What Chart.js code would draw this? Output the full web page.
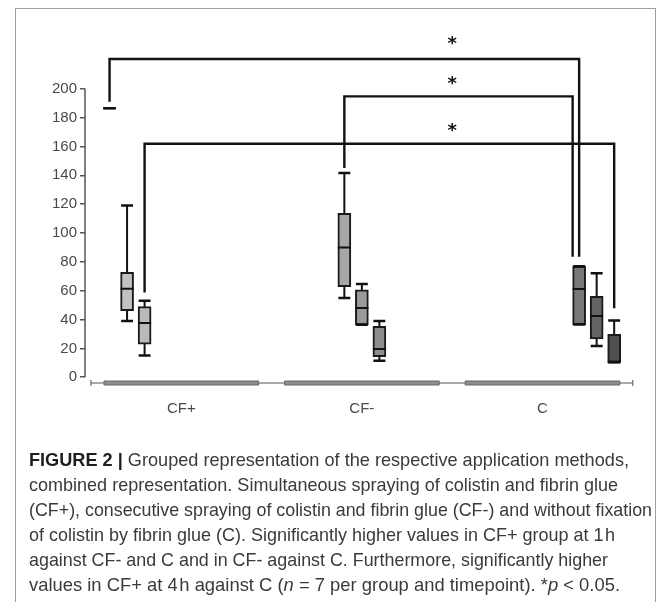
<!DOCTYPE html>
<html>
<head>
<meta charset="utf-8">
<script src="https://cdn.jsdelivr.net/npm/chart.js@4/dist/chart.umd.min.js"></script>
<style>
  html, body { margin: 0; padding: 0; background: #fff; }
  body { width: 670px; height: 602px; position: relative; overflow: hidden; }
  #wrap { position: absolute; left: 0; top: 0; width: 670px; height: 440px; }
  #frame { position: absolute; left: 15px; top: 8px; width: 641px; height: 640px;
           border: 1px solid #a0a0a0; border-bottom: none; box-sizing: border-box; }
  #caption { position: absolute; left: 29px; top: 447px; color: #3a3a3a;
             font-family: 'Liberation Sans', sans-serif;
             font-size: 18.5px; line-height: 25px; white-space: nowrap; }
  #caption span { display: inline-block; transform-origin: 0 50%; }
  #caption b { color: #1e1e1e; }
</style>
</head>
<body>
<div id="wrap"><canvas id="chart" width="670" height="440"></canvas></div>
<div id="frame"></div>
<div id="caption">
  <div><span><b>FIGURE 2 |</b> Grouped representation of the respective application methods,</span></div>
  <div><span>combined representation. Simultaneous spraying of colistin and fibrin glue</span></div>
  <div><span>(CF+), consecutive spraying of colistin and fibrin glue (CF-) and without fixation</span></div>
  <div><span>of colistin by fibrin glue (C). Significantly higher values in CF+ group at 1&#8202;h</span></div>
  <div><span>against CF- and C and in CF- against C. Furthermore, significantly higher</span></div>
  <div><span>values in CF+ at 4&#8202;h against C (<i>n</i> = 7 per group and timepoint). *<i>p</i> &lt; 0.05.</span></div>
</div>
<script>
const groups = ['CF+', 'CF-', 'C'];
const timepoints = ['1 h', '4 h', '24 h'];

// five-number summaries, group after group, timepoints in order
const minValues    = [186.5, 39,   15,   55,    36.3, 11.5,  36.5, 21.7, 10.4];
const q1Values     = [186.5, 46.2, 23,   62.8,  36.3, 14.3,  36.5, 26.6, 10.4];
const medianValues = [186.5, 61.4, 37.6, 90,    48,   19.6,  61.2, 42.5, 10.4];
const q3Values     = [186.5, 72.7, 49,   113.6, 60.5, 35.3,  76.9, 56,   29.8];
const maxValues    = [186.5, 119,  53,   141.6, 64.7, 39,    76.9, 72,   39.3];

const yTicks = [0, 20, 40, 60, 80, 100, 120, 140, 160, 180, 200];

// significance brackets (box index from / to)
const sigFrom    = [0, 3, 2];
const sigTo      = [6, 6, 8];
const sigLevel   = [220.6, 194.7, 161.8];
const sigFromEnd = [191, 145, 58.8];
const sigToEnd   = [83.5, 83.5, 47.9];
const sigMarks   = ['*', '*', '*'];
const sigMarkY   = [234, 205.8, 173.8];

const boxFill = ['#c2c2c2', '#c2c2c2', '#bababa',
                 '#a7a7a7', '#9a9a9a', '#8d8d8d',
                 '#787878', '#646464', '#4f4f4f'];

const GROUP_SHIFT = 0.3, TP_STEP = 0.097;
const BOX_HALF = 0.036, CAP_HALF = 0.033;
const sigToSide = [0, -1, 0];

const boxX = minValues.map((_, i) => {
  const g = Math.floor(i / timepoints.length), t = i % timepoints.length;
  return g + (g - 1) * GROUP_SHIFT + (t - 1) * TP_STEP;
});

const whiskers = [], caps = [], medians = [], brackets = [];
boxX.forEach((x, i) => {
  whiskers.push({x, y: minValues[i]}, {x, y: maxValues[i]}, {x, y: null});
  caps.push({x: x - CAP_HALF, y: maxValues[i]}, {x: x + CAP_HALF, y: maxValues[i]}, {x, y: null});
  caps.push({x: x - CAP_HALF, y: minValues[i]}, {x: x + CAP_HALF, y: minValues[i]}, {x, y: null});
  medians.push({x: x - BOX_HALF, y: medianValues[i]}, {x: x + BOX_HALF, y: medianValues[i]}, {x, y: null});
});
sigFrom.forEach((f, k) => {
  const x1 = boxX[f], x2 = boxX[sigTo[k]] + sigToSide[k] * BOX_HALF;
  brackets.push({x: x1, y: sigFromEnd[k]}, {x: x1, y: sigLevel[k]},
                {x: x2, y: sigLevel[k]}, {x: x2, y: sigToEnd[k]}, {x: x1, y: null});
});

const lineSet = (data, width, order) => ({
  type: 'line', data, order,
  borderColor: '#111', borderWidth: width,
  borderJoinStyle: 'miter', borderCapStyle: 'butt',
  pointRadius: 0, spanGaps: false, tension: 0
});

const axisDecor = {
  id: 'axisDecor',
  beforeDatasetsDraw(chart) {
    const {ctx, chartArea, scales: {x, y}} = chart;
    ctx.save();
    ctx.strokeStyle = '#555';
    ctx.lineWidth = 1.5;
    ctx.beginPath();
    ctx.moveTo(chartArea.left, y.getPixelForValue(0));
    ctx.lineTo(chartArea.left, y.getPixelForValue(yTicks[yTicks.length - 1]));
    ctx.stroke();

    const base = chartArea.bottom;
    const xa = x.getPixelForValue(-0.5), xb = x.getPixelForValue(groups.length - 0.5);
    ctx.lineWidth = 1;
    ctx.beginPath();
    ctx.moveTo(xa, base); ctx.lineTo(xb, base);
    ctx.moveTo(xa, base - 3); ctx.lineTo(xa, base + 3);
    ctx.moveTo(xb, base - 3); ctx.lineTo(xb, base + 3);
    ctx.stroke();
    groups.forEach((g, i) => {
      const l = x.getPixelForValue(i - 0.428), r = x.getPixelForValue(i + 0.428);
      ctx.fillStyle = '#8e8e8e';
      ctx.strokeStyle = '#666';
      ctx.beginPath();
      ctx.rect(l, base - 2, r - l, 4);
      ctx.fill();
      ctx.stroke();
    });
    ctx.restore();
  },
  afterDatasetsDraw(chart) {
    const {ctx, scales: {x, y}} = chart;
    ctx.save();
    ctx.fillStyle = '#111';
    ctx.font = 'bold 18px "DejaVu Sans"';
    ctx.textAlign = 'center';
    ctx.textBaseline = 'alphabetic';
    sigMarks.forEach((m, k) => {
      ctx.fillText(m, x.getPixelForValue(1.5), y.getPixelForValue(sigMarkY[k]) + 9);
    });
    ctx.restore();
  }
};

const tickFont = {family: "'Liberation Sans', sans-serif", size: 15};

new Chart(document.getElementById('chart'), {
  type: 'bar',
  data: {
    datasets: [
      lineSet(whiskers, 2, 3),
      {
        type: 'bar', order: 2,
        data: boxX.map((x, i) => ({x, y: [q1Values[i], q3Values[i]]})),
        backgroundColor: boxFill,
        borderColor: '#1a1a1a', borderWidth: 2, borderSkipped: false,
        barThickness: 13
      },
      lineSet(caps, 2.5, 1),
      lineSet(medians, 2, 1),
      lineSet(brackets, 2.4, 0)
    ]
  },
  options: {
    responsive: false,
    animation: false,
    layout: {padding: {left: 0, right: 30, top: 31, bottom: 0}},
    plugins: {legend: {display: false}, tooltip: {enabled: false}},
    scales: {
      x: {
        type: 'linear', offset: false,
        min: -0.533, max: 2.54,
        grid: {display: false, drawTicks: false},
        border: {display: false},
        afterBuildTicks: s => { s.ticks = groups.map((g, i) => ({value: i})); },
        afterFit: s => { s.height = 57; },
        ticks: {
          padding: 17, color: '#4a4a4a', font: tickFont,
          callback: v => groups[v]
        }
      },
      y: {
        min: -4, max: 240,
        grid: {drawOnChartArea: false, tickLength: 5, color: '#555', lineWidth: 1.5},
        border: {display: false},
        afterBuildTicks: s => { s.ticks = yTicks.map(v => ({value: v})); },
        afterFit: s => { s.width = 85; },
        ticks: {padding: 3, color: '#4a4a4a', font: tickFont}
      }
    }
  },
  plugins: [axisDecor]
});

// squeeze each caption line to the width it has in the figure
const captionEnds = [629, 618, 652, 615, 608, 620];
document.querySelectorAll('#caption span').forEach((el, i) => {
  const w = el.getBoundingClientRect().width;
  el.style.transform = 'scaleX(' + ((captionEnds[i] - 29) / w) + ')';
});
</script>
</body>
</html>
